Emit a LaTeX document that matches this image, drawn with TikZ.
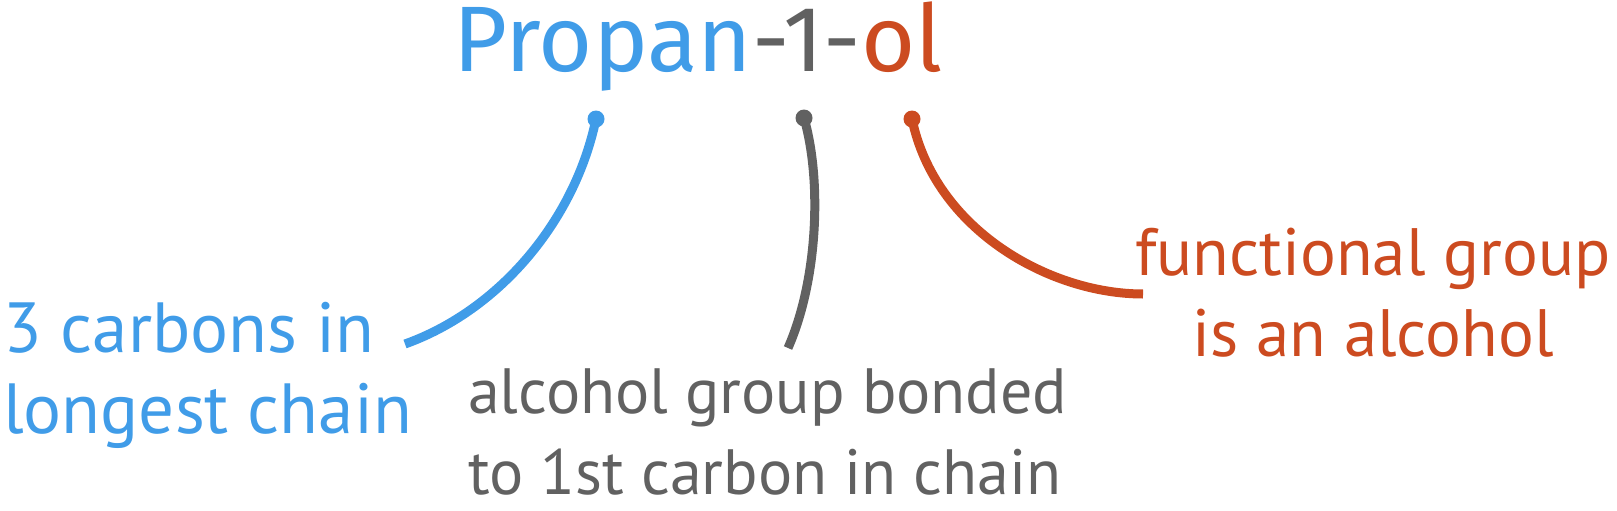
\documentclass[tikz,border=0pt]{standalone}
\usepackage{fontspec}
\setmainfont{Fira Sans}
\newfontfamily\notefont{PT Sans}
\usetikzlibrary{positioning}
\definecolor{chainblue}{RGB}{64,156,232}
\definecolor{numgray}{RGB}{97,97,97}
\definecolor{olred}{RGB}{204,75,32}

\begin{document}
\begin{tikzpicture}[x=1pt,y=-1pt,
	enddot/.style={circle,fill,inner sep=0pt,minimum size=17pt},
	link/.style={line width=9pt},
	note/.style={inner sep=0pt,font=\notefont\fontsize{#1}{81}\selectfont}]
	\useasboundingbox (0,0) rectangle (1617,511);
	\node (name) [anchor=base,inner sep=0pt,font=\fontsize{93}{93}\selectfont] at (698,71) {\textcolor{chainblue}{Propan}\textcolor{numgray}{-1-}\textcolor{olred}{ol}};
	\node (d1) [enddot,chainblue] at (596,119) {};
	\node (d2) [enddot,numgray] at (804,118) {};
	\node (d3) [enddot,olred] at (912,119) {};
	\coordinate (e1) at (405,344);
	\coordinate (e2) at (788,348);
	\coordinate (e3) at (1143,294);
	\node (n1) [note=71,chainblue,anchor=base west,align=left] at (3,433) {3 carbons in\\longest chain};
	\node (n2) [note=64,numgray,anchor=base west,align=left] at (468,494) {alcohol group bonded\\to 1st carbon in chain};
	\node (n3) [note=67,olred,anchor=base,align=center] at (1373,356) {functional group\\is an alcohol};
	%
	\draw [link,chainblue] (d1.center) .. controls (575,220) and (500,310) .. (e1);
	\draw [link,numgray] (d2.center) .. controls (822,180) and (818,280) .. (e2);
	\draw [link,olred] (d3.center) .. controls (935,230) and (1050,294) .. (e3);
\end{tikzpicture}
\end{document}
